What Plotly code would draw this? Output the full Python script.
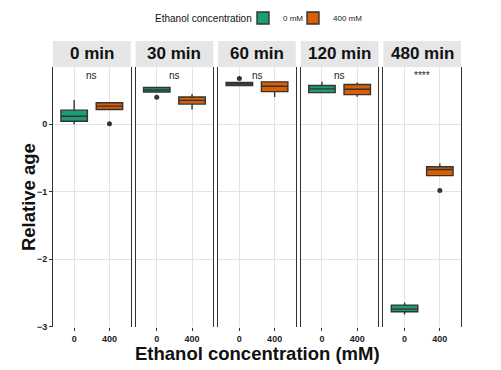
import plotly.graph_objects as go
from plotly.subplots import make_subplots

# ---- data ----
times = ["0 min", "30 min", "60 min", "120 min", "480 min"]
concs = ["0", "400"]
group_names = ["0 mM", "400 mM"]
colors = ["#1B9E77", "#D95F02"]

# per time: [0 mM, 400 mM]
q1 = [[0.045, 0.22], [0.48, 0.30], [0.575, 0.485], [0.47, 0.44], [-2.78, -0.76]]
median = [[0.12, 0.27], [0.51, 0.355], [0.60, 0.565], [0.525, 0.52], [-2.74, -0.67]]
q3 = [[0.21, 0.32], [0.545, 0.405], [0.62, 0.63], [0.575, 0.59], [-2.68, -0.63]]
lowf = [[0.0, 0.22], [0.48, 0.22], [0.575, 0.405], [0.47, 0.41], [-2.82, -0.76]]
upf = [[0.36, 0.32], [0.545, 0.45], [0.62, 0.63], [0.63, 0.62], [-2.64, -0.58]]
outliers = [[[], [0.01]], [[0.40], []], [[0.68], []], [[], []], [[], [-0.98]]]
signif = ["ns", "ns", "ns", "ns", "****"]

W, H = 501, 370
ml, mr, mt, mb = 53, 40, 41, 43
plot_h = H - mt - mb
strip_h = 26
ydom_top = 1 - strip_h / plot_h
legend_ids = ["legend", "legend2"]

fig = make_subplots(rows=1, cols=5, shared_yaxes=True, horizontal_spacing=5 / (W - ml - mr))

for i, t in enumerate(times):
    col = i + 1
    for g in range(2):
        fig.add_trace(go.Box(
            x=[concs[g]], q1=[q1[i][g]], median=[median[i][g]], q3=[q3[i][g]],
            lowerfence=[lowf[i][g]], upperfence=[upf[i][g]],
            name=group_names[g], legendgroup=group_names[g], showlegend=(i == 0),
            legend=legend_ids[g],
            fillcolor=colors[g], line=dict(color="#333333", width=1.4),
            width=0.75, whiskerwidth=0, boxpoints=False,
        ), row=1, col=col)
        if outliers[i][g]:
            fig.add_trace(go.Scatter(
                x=[concs[g]] * len(outliers[i][g]), y=outliers[i][g], mode="markers",
                marker=dict(color="#333333", size=5), showlegend=False, hoverinfo="skip",
            ), row=1, col=col)
    fig.add_annotation(x=0.5, y=0.73, xref=f"x{col if col > 1 else ''}", yref="y",
                       xanchor="center", yanchor="middle",
                       text=signif[i], showarrow=False, font=dict(size=10, color="#222"))

xdoms = []
for i in range(5):
    key = "xaxis" if i == 0 else f"xaxis{i+1}"
    fig.layout[key].update(
        type="category", categoryorder="array", categoryarray=concs, range=[-0.6, 1.6],
        showgrid=True, gridcolor="#E3E3E3", gridwidth=1, zeroline=False,
        ticks="outside", ticklen=3, tickcolor="#333333", showline=False,
        tickfont=dict(size=9, color="#222", weight="bold"),
    )
    xdoms.append(fig.layout[key].domain)
    ykey = "yaxis" if i == 0 else f"yaxis{i+1}"
    fig.layout[ykey].update(
        domain=[0, ydom_top], range=[-3.005, 0.85], showgrid=True, gridcolor="#E3E3E3",
        gridwidth=1, zeroline=False, showline=True, mirror=True, linecolor="#333333",
        linewidth=1, tickvals=[0, -1, -2, -3], ticktext=["0", "\u22121", "\u22122", "\u22123"],
        tickfont=dict(size=9, color="#222", weight="bold"),
        ticks="outside" if i == 0 else "", ticklen=3, tickcolor="#333333",
    )

for i, t in enumerate(times):
    d = xdoms[i]
    fig.add_shape(type="rect", xref="paper", yref="paper", x0=d[0], x1=d[1],
                  y0=ydom_top, y1=1, fillcolor="#E6E6E6", line=dict(width=0), layer="below")
    fig.add_annotation(xref="paper", yref="paper", x=(d[0] + d[1]) / 2,
                       y=(ydom_top + 1) / 2, text=t, showarrow=False,
                       xanchor="center", yanchor="middle",
                       font=dict(size=17, color="#111", weight="bold"))

fig.add_annotation(xref="paper", yref="paper", x=-0.061, y=ydom_top / 2, text="Relative age",
                   textangle=-90, showarrow=False, xanchor="center", yanchor="middle",
                   font=dict(size=18.5, color="#111", weight="bold"))
fig.add_annotation(xref="paper", yref="paper", x=0.5, y=-(353 - (H - mb)) / plot_h,
                   text="Ethanol concentration (mM)", showarrow=False,
                   xanchor="center", yanchor="middle",
                   font=dict(size=18.5, color="#111", weight="bold"))
# legend title
fig.add_annotation(xref="paper", yref="paper", x=(254 - ml) / (W - ml - mr),
                   y=1 + (mt - 18) / plot_h, text="Ethanol concentration", showarrow=False,
                   xanchor="right", yanchor="middle", font=dict(size=10, color="#111"))

leg_common = dict(orientation="h", xref="container", yref="container", xanchor="left",
                  y=1 - 18 / H, yanchor="middle", font=dict(size=8), itemwidth=30,
                  bgcolor="rgba(0,0,0,0)")
fig.update_layout(
    width=W, height=H, margin=dict(l=ml, r=mr, t=mt, b=mb, autoexpand=False),
    paper_bgcolor="white", plot_bgcolor="white", hovermode=False,
    font=dict(family="Liberation Sans, Arial, sans-serif", color="#222"),
    legend=dict(x=243 / W, **leg_common),
    legend2=dict(x=293 / W, **leg_common),
)

fig.write_html("out.html", config={"displayModeBar": False},
               post_script="document.body.style.margin='0';")
